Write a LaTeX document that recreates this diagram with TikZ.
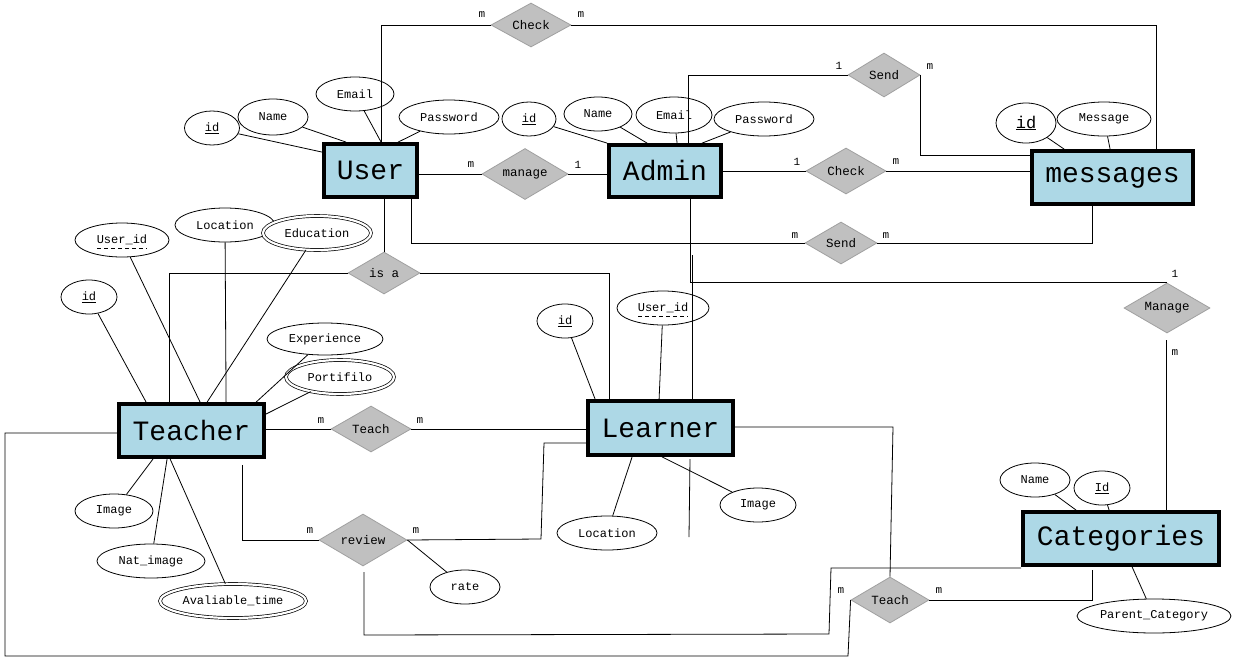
\documentclass[tikz,border=0pt]{standalone}
\usepackage{fontspec}
\setmainfont{Liberation Mono}
\usetikzlibrary{shapes.geometric,calc}
\definecolor{entfill}{HTML}{ADD8E6}
\definecolor{relfill}{HTML}{C0C0C0}
\definecolor{reldraw}{HTML}{A0A0A0}
\begin{document}
\begin{tikzpicture}[x=1pt,y=-1pt,
  every path/.style={line width=0.8pt},
  entity/.style={draw=black,line width=3.8pt,fill=entfill,inner sep=0pt,font=\fontsize{28}{30}\selectfont},
  rel/.style={diamond,draw=reldraw,line width=0.8pt,fill=relfill,inner sep=0pt,aspect=1.8,font=\fontsize{12.5}{14}\selectfont},
  attr/.style={ellipse,draw=black,line width=0.8pt,fill=white,inner sep=0pt,font=\fontsize{12}{14}\selectfont},
  multi/.style={attr,double,double distance=2.2pt,line width=0.7pt},
  card/.style={inner sep=0pt,font=\fontsize{11}{12}\selectfont}
]
\useasboundingbox[fill=white] (0,0) rectangle (1235,662);

% ---------- entities ----------
\node[entity,minimum width=93pt,minimum height=53pt] (user) at (370.5,170.5) {User};
\node[entity,minimum width=112pt,minimum height=52pt] (admin) at (665,171) {Admin};
\node[entity,minimum width=161pt,minimum height=53pt] (msg) at (1112.5,177.5) {messages};
\node[entity,minimum width=145pt,minimum height=53pt] (teacher) at (191.5,430.5) {Teacher};
\node[entity,minimum width=145pt,minimum height=54pt] (learner) at (660.5,428) {Learner};
\node[entity,minimum width=196pt,minimum height=53pt] (cat) at (1121,538.5) {Categories};

% ---------- relationships ----------
\node[rel,minimum width=80pt,minimum height=44pt] (check1) at (531,25) {Check};
\node[rel,minimum width=86pt,minimum height=51pt] (manage) at (525,174) {manage};
\node[rel,minimum width=72pt,minimum height=42pt] (isa) at (384,273) {is a};
\node[rel,minimum width=72pt,minimum height=44pt] (send1) at (884,75) {Send};
\node[rel,minimum width=80pt,minimum height=46pt] (check2) at (846,171) {Check};
\node[rel,minimum width=72pt,minimum height=42pt] (send2) at (841,243) {Send};
\node[rel,minimum width=86pt,minimum height=50pt] (manage2) at (1167,308) {Manage};
\node[rel,minimum width=80pt,minimum height=46pt] (teach1) at (371,429) {Teach};
\node[rel,minimum width=88pt,minimum height=52pt] (review) at (363,540) {review};
\node[rel,minimum width=78pt,minimum height=46pt] (teach2) at (890,600) {Teach};

% ---------- attributes ----------
% User
\node[attr,minimum width=55pt,minimum height=34pt] (uid) at (212,128) {\underline{id}};
\node[attr,minimum width=70pt,minimum height=36pt] (uname) at (273,117) {Name};
\node[attr,minimum width=78pt,minimum height=34pt] (uemail) at (355,94) {Email};
\node[attr,minimum width=100pt,minimum height=34pt] (upass) at (449,117) {Password};
% Admin
\node[attr,minimum width=54pt,minimum height=34pt] (aid) at (529,119) {\underline{id}};
\node[attr,minimum width=68pt,minimum height=34pt] (aname) at (598,114) {Name};
\node[attr,minimum width=76pt,minimum height=36pt] (aemail) at (674,115) {Email};
\node[attr,minimum width=100pt,minimum height=34pt] (apass) at (764,119) {Password};
% messages
\node[attr,minimum width=60pt,minimum height=40pt,font=\fontsize{17}{18}\selectfont] (mid) at (1026,123) {\underline{id}};
\node[attr,minimum width=94pt,minimum height=34pt] (mmsg) at (1104,119) {Message};
% Teacher
\node[attr,minimum width=94pt,minimum height=34pt] (tuid) at (122,240) {User\_id};
\node[attr,minimum width=100pt,minimum height=34pt] (tloc) at (225,225) {Location};
\node[multi,minimum width=108pt,minimum height=34pt] (tedu) at (317,233) {Education};
\node[attr,minimum width=56pt,minimum height=34pt] (tid) at (89,297) {\underline{id}};
\node[attr,minimum width=116pt,minimum height=32pt] (texp) at (325,339) {Experience};
\node[multi,minimum width=108pt,minimum height=34pt] (tport) at (340,377) {Portifilo};
\node[attr,minimum width=78pt,minimum height=34pt] (timg) at (114,511) {Image};
\node[attr,minimum width=108pt,minimum height=34pt] (tnat) at (151,561) {Nat\_image};
\node[multi,minimum width=146pt,minimum height=34pt] (tavail) at (233,601) {Avaliable\_time};
% review
\node[attr,minimum width=70pt,minimum height=34pt] (rate) at (465,587) {rate};
% Learner
\node[attr,minimum width=56pt,minimum height=34pt] (lid) at (565,321) {\underline{id}};
\node[attr,minimum width=92pt,minimum height=34pt] (luid) at (663,308) {User\_id};
\node[attr,minimum width=100pt,minimum height=34pt] (lloc) at (607,533) {Location};
\node[attr,minimum width=76pt,minimum height=34pt] (limg) at (758,505) {Image};
% Categories
\node[attr,minimum width=70pt,minimum height=34pt] (cname) at (1035,480) {Name};
\node[attr,minimum width=56pt,minimum height=34pt] (cid) at (1102,488) {\underline{Id}};
\node[attr,minimum width=154pt,minimum height=34pt] (cpar) at (1154,616) {Parent\_Category};

% dashed underlines of User_id
\draw[dashed,dash pattern=on 4pt off 3pt] ($(tuid.center)+(-25,8)$) -- ($(tuid.center)+(25,8)$);
\draw[dashed,dash pattern=on 4pt off 3pt] ($(luid.center)+(-25,8)$) -- ($(luid.center)+(25,8)$);

% ---------- free-end coordinates ----------
\coordinate (lvtop) at (692,255);
\coordinate (lstubA) at (690,459);
\coordinate (lstubB) at (689,537);
\coordinate (rvA) at (541,539);
\coordinate (rvB) at (544,443);
\coordinate (rbA) at (364,572);
\coordinate (rbB) at (364,635);
\coordinate (rbC) at (829,634);
\coordinate (rbD) at (831,568);
\coordinate (tlA) at (5,433);
\coordinate (tlB) at (5,656);
\coordinate (tlC) at (848,656);
\coordinate (lrA) at (893,427);
\coordinate (mgA) at (1166,340);

% ---------- attribute links ----------
\begin{scope}[on background layer/.try]
\end{scope}
\draw (uid) -- ($(user.north west)+(0,10)$);
\draw (uname) -- ($(user.north west)+(24,0)$);
\draw (uemail) -- ($(user.north west)+(59,0)$);
\draw (upass) -- ($(user.north west)+(76,0)$);

\draw (aid) -- (admin.north west);
\draw (aname) -- ($(admin.north west)+(40,0)$);
\draw (aemail) -- ($(admin.north west)+(70,0)$);
\draw (apass) -- ($(admin.north west)+(95,0)$);

\draw (mid) -- ($(msg.north west)+(34,0)$);
\draw (mmsg) -- ($(msg.north west)+(80,0)$);

\draw (tuid) -- ($(teacher.north west)+(83,0)$);
\draw (tloc) -- ($(teacher.north west)+(109,0)$);
\draw (tedu) -- ($(teacher.north west)+(90,0)$);
\draw (tid) -- ($(teacher.north west)+(29,0)$);
\draw (texp) -- ($(teacher.north west)+(139,0)$);
\draw (tport) -- ($(teacher.north east)+(0,12)$);
\draw (timg) -- ($(teacher.south west)+(36,0)$);
\draw (tnat) -- ($(teacher.south west)+(50,0)$);
\draw (tavail) -- ($(teacher.south west)+(53,0)$);

\draw (lid) -- ($(learner.north west)+(9,0)$);
\draw (luid) -- ($(learner.north west)+(73,0)$);
\draw (lloc) -- ($(learner.south west)+(46,0)$);
\draw (limg) -- ($(learner.south west)+(76,0)$);

\draw (cname) -- ($(cat.north west)+(55,0)$);
\draw (cid) -- ($(cat.north west)+(88,0)$);
\draw (cpar) -- ($(cat.south west)+(111,0)$);

% ---------- relationship links ----------
\draw ($(user.north west)+(59,0)$) |- (check1.west);
\draw (check1.east) -| ($(msg.north west)+(126,0)$);

\draw (manage.west) -- (manage.west -| user.east);
\draw (manage.east) -- (manage.east -| admin.west);

\draw (isa.north) -- (isa.north |- user.south);
\draw (isa.west) -| (169,0 |- teacher.north);
\draw (isa.east) -| (609,0 |- learner.north);

\draw (411,0 |- user.south) |- (send2.west);
\draw (send2.east) -| (1092,0 |- msg.south);

\draw (688,0 |- admin.north) |- (send1.west);
\draw (send1.east) |- (msg.west |- 0,155);

\draw (check2.west) -- (check2.west -| admin.east);
\draw (check2.east) -- (check2.east -| msg.west);

\draw (690,0 |- admin.south) |- (manage2.north);
\draw (lvtop) -- (692,0 |- learner.north);
\draw (lstubA) -- (lstubB);
\draw (mgA) -- (1166,0 |- cat.north);

\draw (teach1.west) -- (teach1.west -| teacher.east);
\draw (teach1.east) -- (teach1.east -| learner.west);

\draw ($(teacher.south west)+(125,6)$) |- (review.west);
\draw (review.east) -- (rvA) -- (rvB) -- (rvB -| learner.west);
\draw (review.east) -- (rate);
\draw (rbA) -- (rbB) -- (rbC) -- (rbD) -- (rbD -| cat.west);

\draw (tlA -| teacher.west) -- (tlA) -- (tlB) -- (tlC) -- (teach2.west);
\draw (lrA -| learner.east) -- (lrA) -- (teach2.north);
\draw (teach2.east) -| (1092,570);

% ---------- cardinalities ----------
\node[card] (c1) at (482,15) {m};
\node[card] (c2) at (581,15) {m};
\node[card] (c3) at (471,165) {m};
\node[card] (c4) at (578,165) {1};
\node[card] (c5) at (839,66) {1};
\node[card] (c6) at (930,67) {m};
\node[card] (c7) at (797,162) {1};
\node[card] (c8) at (896,162) {m};
\node[card] (c9) at (795,236) {m};
\node[card] (c10) at (886,236) {m};
\node[card] (c11) at (1175,274) {1};
\node[card] (c12) at (1175,353) {m};
\node[card] (c13) at (321,421) {m};
\node[card] (c14) at (420,421) {m};
\node[card] (c15) at (310,531) {m};
\node[card] (c16) at (416,531) {m};
\node[card] (c17) at (841,591) {m};
\node[card] (c18) at (939,591) {m};
\end{tikzpicture}
\end{document}
